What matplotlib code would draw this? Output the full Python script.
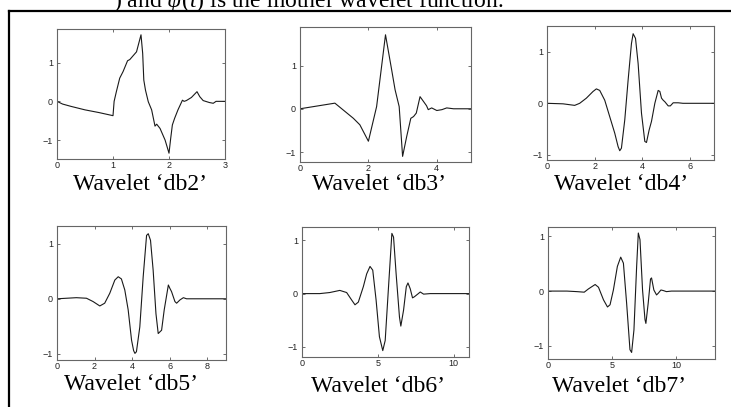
import matplotlib
matplotlib.use("Agg")
import matplotlib.pyplot as plt
from matplotlib.lines import Line2D

plt.rcParams["mathtext.fontset"] = "custom"
plt.rcParams["mathtext.rm"] = "Liberation Serif"
plt.rcParams["mathtext.it"] = "Liberation Serif:italic"
plt.rcParams["font.family"] = ["Liberation Sans", "DejaVu Sans"]

# Wavelet curves (t, psi(t))
db2_x = [0, 0.1, 0.25, 0.5, 0.75, 1.0, 1.02, 1.06, 1.12, 1.18, 1.26, 1.30, 1.42, 1.5,
         1.53, 1.55, 1.58, 1.63, 1.69, 1.75, 1.78, 1.84, 1.93, 2.0,
         2.03, 2.06, 2.1, 2.16, 2.24, 2.27, 2.31, 2.4, 2.5, 2.55, 2.61, 2.72, 2.79, 2.84, 3.0]
db2_y = [0, -0.07, -0.13, -0.22, -0.29, -0.37, 0.0, 0.25, 0.6, 0.77, 1.05, 1.08, 1.28, 1.72,
         1.24, 0.55, 0.29, -0.01, -0.22, -0.64, -0.59, -0.7, -1.0, -1.34,
         -0.96, -0.61, -0.44, -0.22, 0.03, 0.0, 0.02, 0.1, 0.25, 0.12, 0.02, -0.03, -0.05, 0.0, 0.0]

db3_x = [0, 1.02, 1.56, 1.75, 2.0, 2.24, 2.5, 2.68, 2.78, 2.9, 3.0, 3.12, 3.24, 3.32, 3.4,
         3.51, 3.61, 3.7, 3.75, 3.85, 4.0, 4.15, 4.29, 4.49, 5.0]
db3_y = [0, 0.13, -0.22, -0.37, -0.75, 0.05, 1.71, 0.9, 0.44, 0.05, -1.1, -0.64, -0.22, -0.18, -0.1,
         0.28, 0.17, 0.07, -0.02, 0.02, -0.04, -0.02, 0.02, 0.0, 0.0]

db4_x = [0, 0.67, 1.16, 1.37, 1.65, 1.93, 2.07, 2.21, 2.42, 2.63, 2.84, 2.98, 3.05, 3.12, 3.26, 3.4,
         3.54, 3.61, 3.71, 3.82, 3.96, 4.1, 4.17, 4.28, 4.38, 4.52, 4.66, 4.73, 4.8, 4.87, 4.94,
         5.08, 5.17, 5.29, 5.5, 5.7, 7.0]
db4_y = [0, -0.01, -0.04, 0.0, 0.1, 0.23, 0.28, 0.25, 0.06, -0.26, -0.58, -0.84, -0.92, -0.87, -0.32, 0.45,
         1.16, 1.35, 1.26, 0.77, -0.19, -0.74, -0.76, -0.52, -0.35, 0.0, 0.25, 0.23, 0.1, 0.06, 0.03,
         -0.05, -0.05, 0.01, 0.01, 0.0, 0.0]

db5_x = [0, 1.03, 1.57, 1.92, 2.28, 2.54, 2.81, 3.08, 3.26, 3.43, 3.61, 3.79, 3.97, 4.08, 4.15, 4.23,
         4.41, 4.59, 4.77, 4.86, 4.98, 5.12, 5.27, 5.39, 5.57, 5.71, 5.93, 6.01, 6.1, 6.28, 6.37,
         6.55, 6.73, 6.9, 9.0]
db5_y = [0, 0.02, 0.01, -0.05, -0.13, -0.08, 0.1, 0.34, 0.4, 0.36, 0.16, -0.2, -0.75, -0.94, -0.99, -0.96,
         -0.51, 0.4, 1.15, 1.18, 1.06, 0.52, -0.27, -0.63, -0.57, -0.2, 0.25, 0.19, 0.13, -0.05, -0.08,
         -0.02, 0.02, 0.0, 0.0]

db6_x = [0, 1.17, 1.83, 2.49, 2.94, 3.27, 3.49, 3.71, 4.04, 4.26, 4.48, 4.66, 4.88, 5.1, 5.32,
         5.48, 5.7, 5.92, 6.03, 6.2, 6.42, 6.51, 6.69, 6.87, 6.98, 7.13, 7.28, 7.4, 7.62, 7.79,
         8.01, 8.45, 11.0]
db6_y = [0, 0.0, 0.02, 0.06, 0.02, -0.12, -0.21, -0.16, 0.13, 0.37, 0.51, 0.44, -0.12, -0.81, -1.07,
         -0.88, 0.13, 1.13, 1.06, 0.37, -0.44, -0.61, -0.31, 0.13, 0.2, 0.09, -0.08, -0.06, -0.01, 0.03,
         -0.01, 0.0, 0.0]

db7_x = [0, 1.47, 2.25, 2.82, 3.15, 3.67, 3.93, 4.32, 4.63, 4.83, 5.09, 5.4, 5.66, 5.87, 6.12,
         6.38, 6.51, 6.69, 6.9, 7.03, 7.16, 7.36, 7.55, 7.62, 7.8, 7.98, 8.06, 8.24, 8.45, 8.58,
         8.79, 8.97, 9.22, 9.61, 13.0]
db7_y = [0, 0.0, -0.01, -0.02, 0.04, 0.12, 0.07, -0.16, -0.29, -0.25, 0.02, 0.45, 0.62, 0.51, -0.22,
         -1.07, -1.12, -0.71, 0.45, 1.06, 0.94, 0.02, -0.52, -0.59, -0.22, 0.22, 0.24, 0.02, -0.07, -0.04,
         0.02, 0.01, -0.01, 0.0, 0.0]

names = ["db2", "db3", "db4", "db5", "db6", "db7"]
xs = [db2_x, db3_x, db4_x, db5_x, db6_x, db7_x]
ys = [db2_y, db3_y, db4_y, db5_y, db6_y, db7_y]
xlims = [3, 5, 7, 9, 11, 13]
ylims = [(-1.49, 1.87), (-1.23, 1.89), (-1.10, 1.50), (-1.11, 1.32), (-1.19, 1.25), (-1.24, 1.17)]
xticks = [[0, 1, 2, 3], [0, 2, 4], [0, 2, 4, 6], [0, 2, 4, 6, 8], [0, 5, 10], [0, 5, 10]]

W, H = 731, 407
fig = plt.figure(figsize=(W / 100, H / 100), dpi=100)

# axes boxes in pixels: left, right, top, bottom
boxes = [(57, 225, 29, 159), (300, 471, 27, 162), (547, 714, 26, 160),
         (57, 226, 226, 360), (302, 469, 227, 357), (548, 715, 227, 359)]
# label centre x and baseline y in pixels
label_pos = [(140, 190), (379, 190), (621, 190), (131, 390), (378, 392), (619, 392)]

for i in range(6):
    l, r, t, b = boxes[i]
    ax = fig.add_axes([l / W, 1 - b / H, (r - l) / W, (b - t) / H])
    ax.plot(xs[i], ys[i], color="#1a1a1a", lw=0.8)
    ax.set_xlim(0, xlims[i])
    ax.set_ylim(*ylims[i])
    ax.set_xticks(xticks[i])
    ax.set_yticks([-1, 0, 1])
    ax.set_yticklabels(["\u22121", "0", "1"])
    ax.tick_params(direction="in", length=2, width=0.6, colors="#555555", labelcolor="#222222",
                   labelsize=6.5, top=True, right=True)
    ax.tick_params(axis="x", pad=1.5)
    ax.tick_params(axis="y", pad=3)
    for s in ax.spines.values():
        s.set_color("#666666")
        s.set_linewidth(0.8)
    cx, cy = label_pos[i]
    fig.text(cx / W, 1 - cy / H, "Wavelet \u2018" + names[i] + "\u2019", ha="center", va="baseline",
             family="Liberation Serif", fontsize=17)

# caption fragment cut off at the top, as in the reference
fig.text(503 / W, 1 - 6.5 / H, r") and $\psi(t)$ is the mother wavelet function.", ha="right",
         va="baseline", family="Liberation Serif", fontsize=17)

# outer frame (left and top edges visible)
fig.add_artist(Line2D([9 / W, 9 / W], [0, 1 - 11 / H], color="black", lw=1.6, transform=fig.transFigure))
fig.add_artist(Line2D([9 / W, 1], [1 - 11 / H, 1 - 11 / H], color="black", lw=1.6, transform=fig.transFigure))

fig.savefig("out.png", dpi=100)
